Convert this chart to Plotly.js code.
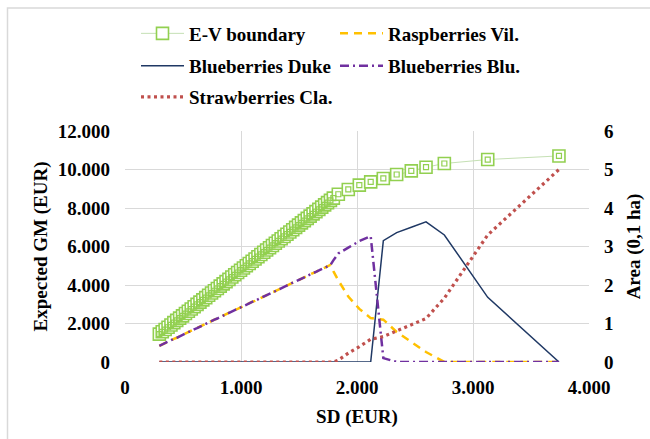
<!DOCTYPE html>
<html>
<head>
<meta charset="utf-8">
<script src="https://cdn.plot.ly/plotly-3.0.1.min.js"></script>
<style>html,body{margin:0;padding:0;background:#fff;}#chart{width:650px;height:439px;}</style>
</head>
<body>
<div id="chart"></div>
<script>
// SD (EUR) of each point on the E-V boundary
const sdValues = [296,321,346,371,396,421,446,471,496,521,546,571,596,621,646,671,696,721,746,771,796,821,846,871,896,921,946,971,996,1021,1046,1071,1096,1121,1146,1171,1196,1221,1246,1271,1296,1321,1346,1371,1396,1421,1446,1471,1496,1521,1546,1571,1596,1621,1646,1671,1696,1721,1746,1771,1796,1839,1925,2020,2118,2227,2342,2468,2595,2753,3127,3741];
// Expected gross margin (EUR)
const gmValues = [1450,1569,1687,1806,1924,2043,2161,2280,2398,2517,2635,2754,2872,2991,3109,3228,3346,3465,3583,3702,3820,3939,4057,4176,4294,4413,4531,4650,4768,4885,5002,5119,5236,5353,5470,5587,5704,5821,5938,6055,6172,6289,6406,6523,6640,6757,6874,6991,7108,7225,7342,7459,7576,7693,7810,7927,8044,8161,8278,8395,8512,8715,8964,9187,9358,9534,9741,9927,10119,10311,10518,10705];
// Areas (0,1 ha)
const raspberriesVil = [0.42,0.46,0.49,0.53,0.56,0.60,0.63,0.67,0.70,0.74,0.78,0.81,0.85,0.88,0.92,0.95,0.99,1.03,1.06,1.10,1.13,1.17,1.20,1.24,1.27,1.31,1.35,1.38,1.42,1.45,1.49,1.52,1.56,1.59,1.63,1.67,1.70,1.74,1.77,1.81,1.84,1.88,1.92,1.95,1.99,2.02,2.06,2.09,2.13,2.16,2.20,2.24,2.27,2.31,2.34,2.38,2.41,2.45,2.48,2.52,2.36,2.12,1.70,1.38,1.14,1.10,0.78,0.52,0.26,0,0,0];
const blueberriesBlu = [0.42,0.46,0.49,0.53,0.56,0.60,0.63,0.67,0.70,0.74,0.78,0.81,0.85,0.88,0.92,0.95,0.99,1.03,1.06,1.10,1.13,1.17,1.20,1.24,1.27,1.31,1.35,1.38,1.42,1.45,1.49,1.52,1.56,1.59,1.63,1.67,1.70,1.74,1.77,1.81,1.84,1.88,1.92,1.95,1.99,2.02,2.06,2.09,2.13,2.16,2.20,2.24,2.27,2.31,2.34,2.38,2.41,2.45,2.48,2.52,2.64,2.82,2.97,3.14,3.27,0.10,0,0,0,0,0,0];
const blueberriesDuke = [0,0,0,0,0,0,0,0,0,0,0,0,0,0,0,0,0,0,0,0,0,0,0,0,0,0,0,0,0,0,0,0,0,0,0,0,0,0,0,0,0,0,0,0,0,0,0,0,0,0,0,0,0,0,0,0,0,0,0,0,0,0,0,0,0,3.15,3.36,3.50,3.64,3.30,1.68,0];
const strawberriesCla = [0,0,0,0,0,0,0,0,0,0,0,0,0,0,0,0,0,0,0,0,0,0,0,0,0,0,0,0,0,0,0,0,0,0,0,0,0,0,0,0,0,0,0,0,0,0,0,0,0,0,0,0,0,0,0,0,0,0,0,0,0,0.05,0.23,0.40,0.59,0.66,0.80,0.96,1.13,1.66,3.30,5.00];

const seriesNames = ['E-V boundary','Raspberries Vil.','Blueberries Duke','Blueberries Blu.','Strawberries Cla.'];
const xTickVals = [0,1000,2000,3000,4000];
const yTickVals = [0,2000,4000,6000,8000,10000,12000];
const y2TickVals = [0,1,2,3,4,5,6];

const FONT = '"Liberation Serif", "Times New Roman", serif';
const FS = 19;

const traces = [
  {x: sdValues, y: gmValues, name: seriesNames[0], type: 'scatter', mode: 'lines+markers', yaxis: 'y', legend: 'legend',
   line: {color: '#C5E0B4', width: 1},
   marker: {symbol: 'square', size: 12, color: '#FFFFFF', line: {color: '#92D050', width: 1.6}}},
  {x: sdValues, y: gmValues, name: 'inner', showlegend: false, type: 'scatter', mode: 'markers', yaxis: 'y',
   marker: {symbol: 'square-open', size: 5, color: '#92D050', line: {color: '#92D050', width: 1.2}}, hoverinfo: 'skip'},
  {x: sdValues, y: raspberriesVil, name: seriesNames[1], type: 'scatter', mode: 'lines', yaxis: 'y2', legend: 'legend',
   line: {color: '#FFC000', width: 2.5, dash: '8px,6px'}},
  {x: sdValues, y: blueberriesDuke, name: seriesNames[2], type: 'scatter', mode: 'lines', yaxis: 'y2', legend: 'legend2',
   line: {color: '#1F3864', width: 1.5}},
  {x: sdValues, y: blueberriesBlu, name: seriesNames[3], type: 'scatter', mode: 'lines', yaxis: 'y2', legend: 'legend2',
   line: {color: '#7030A0', width: 2.5, dash: '9px,4px,2px,4px'}},
  {x: sdValues, y: strawberriesCla, name: seriesNames[4], type: 'scatter', mode: 'lines', yaxis: 'y2', legend: 'legend3',
   line: {color: '#C0504D', width: 3.2, dash: '3px,3.5px'}}
];

const plotTop = 131, plotBottom = 439 - 77, plotH = plotBottom - plotTop, plotL = 125, plotW = 650 - 125 - 61;
const px2x = p => (p - plotL) / plotW;
const px2y = p => (plotBottom - p) / plotH;

function legendRow(yCenter) {
  return {orientation: 'h', x: px2x(136), y: px2y(yCenter), xanchor: 'left', yanchor: 'middle',
          entrywidth: 141, entrywidthmode: 'pixels', traceorder: 'normal', itemwidth: 43,
          font: {family: FONT, size: FS, color: '#000000', weight: 'bold'}, bgcolor: 'rgba(0,0,0,0)'};
}

const layout = {
  width: 650, height: 439,
  margin: {l: 125, r: 61, t: 131, b: 77, pad: 0},
  paper_bgcolor: '#FFFFFF', plot_bgcolor: '#FFFFFF',
  separators: ',.',
  font: {family: FONT, size: FS, color: '#000000', weight: 'bold'},
  showlegend: true,
  legend: legendRow(33.5),
  legend2: legendRow(66),
  legend3: legendRow(97),
  xaxis: {range: [0, 4000], tickvals: xTickVals, tickformat: ',d', showgrid: true, gridcolor: '#D9D9D9', gridwidth: 1,
          zeroline: false, showline: false, ticks: '', ticklabelstandoff: 12,
          tickfont: {family: FONT, size: FS, weight: 'bold'},
          title: {text: 'SD (EUR)', standoff: 12, font: {family: FONT, size: FS, weight: 'bold'}}, automargin: false, fixedrange: true},
  yaxis: {range: [0, 12000], tickvals: yTickVals, tickformat: ',d', showgrid: true, gridcolor: '#D9D9D9', gridwidth: 1,
          zeroline: false, showline: false, ticks: '', ticklabelstandoff: 14,
          tickfont: {family: FONT, size: FS, weight: 'bold'},
          title: {text: 'Expected GM (EUR)', standoff: 5, font: {family: FONT, size: FS, weight: 'bold'}}, automargin: false, fixedrange: true},
  yaxis2: {range: [0, 6], tickvals: y2TickVals, overlaying: 'y', side: 'right', showgrid: false, zeroline: false, showline: false,
           ticks: '', ticklabelstandoff: 14, tickfont: {family: FONT, size: FS, weight: 'bold'},
           title: {text: 'Area (0,1 ha)', standoff: 13, font: {family: FONT, size: FS, weight: 'bold'}}, automargin: false, fixedrange: true},
  shapes: [{type: 'rect', xref: 'paper', yref: 'paper', layer: 'below',
            x0: px2x(7.5), x1: 2, y0: -2, y1: px2y(8),
            line: {color: '#D9D9D9', width: 1.5}, fillcolor: 'rgba(0,0,0,0)'}]
};

Plotly.newPlot('chart', traces, layout, {displayModeBar: false, staticPlot: true});
</script>
</body>
</html>
